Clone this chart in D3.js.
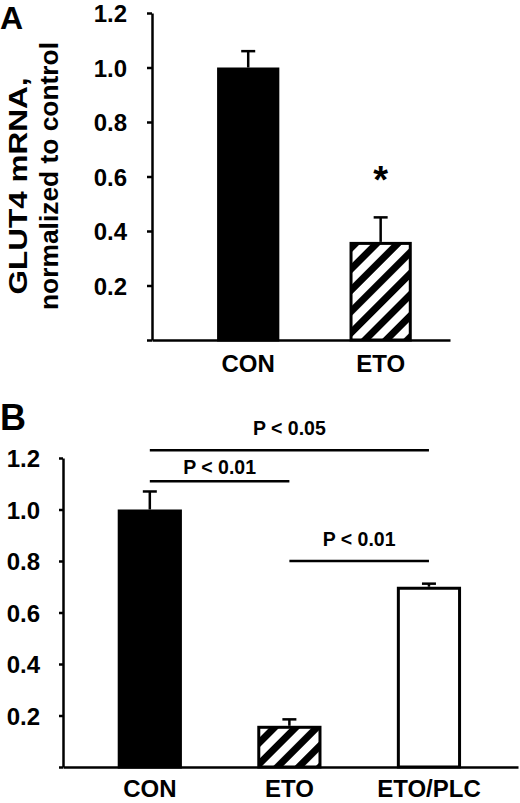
<!DOCTYPE html>
<html>
<head>
<meta charset="utf-8">
<script src="https://cdn.jsdelivr.net/npm/d3@7"></script>
<style>
  body { margin: 0; background: #fff; }
  text { font-family: "Liberation Sans", Arial, sans-serif; font-weight: bold; fill: #000; }
  .axis path, .axis line { stroke: #000; stroke-width: 2.5; }
</style>
</head>
<body>
<svg id="chart" width="520" height="803"></svg>
<script>
'use strict';

// panel A
var categoriesA = ["CON", "ETO"];
var meansA = [1.0, 0.36];
var errorsA = [0.06, 0.09];
var marksA = ["", "*"];

// panel B
var categoriesB = ["CON", "ETO", "ETO/PLC"];
var meansB = [1.0, 0.16, 0.70];
var errorsB = [0.07, 0.025, 0.012];
var comparisonsB = [
    {from: "CON", to: "ETO/PLC", level: 1.23, label: "P < 0.05"},
    {from: "CON", to: "ETO", level: 1.11, label: "P < 0.01"},
    {from: "ETO", to: "ETO/PLC", level: 0.80, label: "P < 0.01"}
];

var yTicks = [0, 0.2, 0.4, 0.6, 0.8, 1.0, 1.2];
var yTickLabels = ["", "0.2", "0.4", "0.6", "0.8", "1.0", "1.2"];

var fillFor = {"CON": "#000", "ETO": "url(#hatch)", "ETO/PLC": "#fff"};

var svg = d3.select("#chart");

// diagonal hatch for the ETO bars
var pattern = svg.append("defs").append("pattern")
    .attr("id", "hatch")
    .attr("patternUnits", "userSpaceOnUse")
    .attr("width", 15)
    .attr("height", 15)
    .attr("patternTransform", "rotate(45)");
pattern.append("rect").attr("width", 15).attr("height", 15).attr("fill", "#fff");
pattern.append("rect").attr("width", 7).attr("height", 15).attr("fill", "#000");

function drawPanel(opts) {
    var data = opts.categories.map(function(c, i) {
        return {name: c, value: opts.means[i], err: opts.errors[i], mark: opts.marks ? opts.marks[i] : ""};
    });

    var x = d3.scaleBand()
        .domain(opts.categories)
        .range([opts.left, opts.right])
        .paddingInner(opts.padInner)
        .paddingOuter(opts.padOuter)
        .align(opts.align);

    var y = d3.scaleLinear()
        .domain([0, 1.2])
        .range([opts.bottom, opts.top]);

    var g = svg.append("g");

    // bars
    var sw = 3;
    g.selectAll(".bar")
        .data(data)
      .enter().append("rect")
        .attr("class", "bar")
        .attr("x", function(d) { return x(d.name) + sw / 2; })
        .attr("y", function(d) { return y(d.value) + sw / 2; })
        .attr("width", x.bandwidth() - sw)
        .attr("height", function(d) { return y(0) - y(d.value) - sw / 2; })
        .attr("fill", function(d) { return fillFor[d.name]; })
        .attr("stroke", "#000")
        .attr("stroke-width", sw);

    // error bars, upper half only
    var cx = function(d) { return x(d.name) + x.bandwidth() / 2; };
    g.selectAll(".stem")
        .data(data)
      .enter().append("line")
        .attr("x1", cx).attr("x2", cx)
        .attr("y1", function(d) { return y(d.value); })
        .attr("y2", function(d) { return y(d.value + d.err); })
        .attr("stroke", "#000").attr("stroke-width", 2.5);
    g.selectAll(".cap")
        .data(data)
      .enter().append("line")
        .attr("x1", function(d) { return cx(d) - 7; })
        .attr("x2", function(d) { return cx(d) + 7; })
        .attr("y1", function(d) { return y(d.value + d.err); })
        .attr("y2", function(d) { return y(d.value + d.err); })
        .attr("stroke", "#000").attr("stroke-width", 2.5);

    g.selectAll(".mark")
        .data(data)
      .enter().append("text")
        .attr("x", cx)
        .attr("y", function(d) { return y(d.value + d.err) - 24; })
        .attr("text-anchor", "middle")
        .style("font-size", "38px")
        .text(function(d) { return d.mark; });

    // axes
    var yAxis = d3.axisLeft(y)
        .tickValues(yTicks)
        .tickFormat(function(d, i) { return yTickLabels[i]; })
        .tickSize(opts.tickSize)
        .tickSizeOuter(0)
        .tickPadding(opts.tickPad);
    g.append("g")
        .attr("class", "axis")
        .attr("transform", "translate(" + opts.left + ",0)")
        .call(yAxis)
        .selectAll("text")
        .style("font-size", "24px")
        .attr("dy", "0.36em");

    var xAxis = d3.axisBottom(x)
        .tickSize(0)
        .tickSizeOuter(0)
        .tickPadding(opts.catPad);
    g.append("g")
        .attr("class", "axis")
        .attr("transform", "translate(0," + opts.bottom + ")")
        .call(xAxis)
        .selectAll("text")
        .style("font-size", "24px");

    return {x: x, y: y, g: g};
}

var panelA = drawPanel({
    categories: categoriesA, means: meansA, errors: errorsA, marks: marksA,
    left: 152, right: 450, top: 13, bottom: 340,
    padInner: 0.53, padOuter: 0.39, align: 0.63,
    tickSize: 5, tickPad: 20, catPad: 15
});

var panelB = drawPanel({
    categories: categoriesB, means: meansB, errors: errorsB,
    left: 63, right: 518, top: 458, bottom: 767,
    padInner: 0.54, padOuter: 0.4, align: 0.49,
    tickSize: 4, tickPad: 19, catPad: 13
});

// y axis title of panel A, two lines
var titleA = svg.append("g");
titleA.append("text")
    .attr("transform", "translate(27,186) rotate(-90)")
    .attr("text-anchor", "middle")
    .attr("textLength", 217)
    .attr("lengthAdjust", "spacingAndGlyphs")
    .style("font-size", "26px")
    .text("GLUT4 mRNA,");
titleA.append("text")
    .attr("transform", "translate(58,176) rotate(-90)")
    .attr("text-anchor", "middle")
    .attr("textLength", 268)
    .attr("lengthAdjust", "spacingAndGlyphs")
    .style("font-size", "25px")
    .text("normalized to control");

// panel letters
svg.append("text").attr("x", 0).attr("y", 29).style("font-size", "32px").text("A");
svg.append("text").attr("x", 0).attr("y", 430).style("font-size", "36px").text("B");

// significance lines in panel B
var xb = panelB.x, yb = panelB.y;
var centerB = function(c) { return xb(c) + xb.bandwidth() / 2; };
var lineYs = comparisonsB.map(function(c) { return yb(c.level); });

comparisonsB.forEach(function(c, i) {
    var x1 = centerB(c.from), x2 = centerB(c.to), ly = lineYs[i];
    // keep the label clear of any line just above it
    var labelY = ly - 15;
    comparisonsB.forEach(function(o, j) {
        if (j === i || lineYs[j] >= ly) return;
        var ox1 = centerB(o.from), ox2 = centerB(o.to);
        if (ox2 > x1 && ox1 < x2) labelY = Math.max(labelY, lineYs[j] + 24);
    });
    panelB.g.append("line")
        .attr("x1", x1).attr("x2", x2)
        .attr("y1", ly).attr("y2", ly)
        .attr("stroke", "#000").attr("stroke-width", 2.5);
    panelB.g.append("text")
        .attr("x", (x1 + x2) / 2)
        .attr("y", labelY)
        .attr("text-anchor", "middle")
        .style("font-size", "19.5px")
        .text(c.label);
});
</script>
</body>
</html>
